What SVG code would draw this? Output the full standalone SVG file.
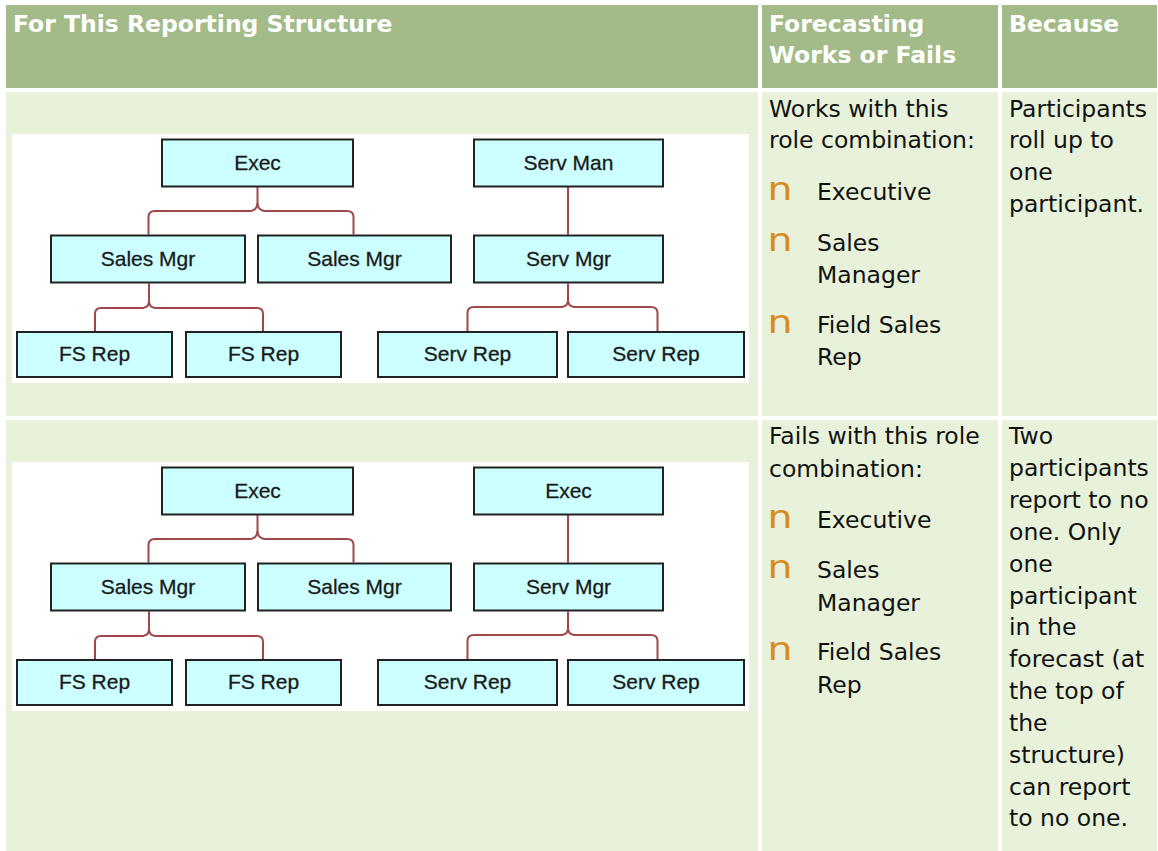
<svg xmlns="http://www.w3.org/2000/svg" width="1158" height="851" viewBox="0 0 1158 851">
<style>
.hd{fill:#a2bb88}
.bd{fill:#e8f2da}
.ht{font-family:"DejaVu Sans",Verdana,sans-serif;font-size:23.5px;font-weight:bold;fill:#ffffff}
.tx{font-family:"DejaVu Sans",Verdana,sans-serif;font-size:23.5px;fill:#111111}
.bu{font-family:"DejaVu Sans",Verdana,sans-serif;font-size:32px;fill:#d98b1e}
.box{fill:#ccffff;stroke:#222222;stroke-width:2}
.bt{font-family:"Liberation Sans",Arial,sans-serif;font-size:21px;fill:#1a1a1a;stroke:#1a1a1a;stroke-width:0.3;text-anchor:middle}
.cn{fill:none;stroke:#a0474a;stroke-width:2}
</style>
<rect width="1158" height="851" fill="#ffffff"/>
<g id="table">
<rect class="hd" x="6" y="5" width="752" height="83"/>
<rect class="hd" x="762" y="5" width="236" height="83"/>
<rect class="hd" x="1002" y="5" width="155" height="83"/>
<rect class="bd" x="6" y="92" width="752" height="324"/>
<rect class="bd" x="762" y="92" width="236" height="324"/>
<rect class="bd" x="1002" y="92" width="155" height="324"/>
<rect class="bd" x="6" y="420" width="752" height="431"/>
<rect class="bd" x="762" y="420" width="236" height="431"/>
<rect class="bd" x="1002" y="420" width="155" height="431"/>
<text class="ht" x="13" y="31.5">For This Reporting Structure</text>
<text class="ht" x="769" y="31.5">Forecasting</text>
<text class="ht" x="769" y="62.5">Works or Fails</text>
<text class="ht" x="1009" y="31.5">Because</text>
<text class="tx" x="769" y="116.5">Works with this</text>
<text class="tx" x="769" y="148.3">role combination:</text>
<text class="bu" x="767.5" y="200" textLength="25" lengthAdjust="spacingAndGlyphs">n</text>
<text class="tx" x="817" y="200">Executive</text>
<text class="bu" x="767.5" y="250.7" textLength="25" lengthAdjust="spacingAndGlyphs">n</text>
<text class="tx" x="817" y="250.7">Sales</text>
<text class="tx" x="817" y="283">Manager</text>
<text class="bu" x="767.5" y="332.5" textLength="25" lengthAdjust="spacingAndGlyphs">n</text>
<text class="tx" x="817" y="332.5">Field Sales</text>
<text class="tx" x="817" y="365">Rep</text>
<text class="tx" x="1009" y="116.5">Participants</text>
<text class="tx" x="1009" y="148.3">roll up to</text>
<text class="tx" x="1009" y="180">one</text>
<text class="tx" x="1009" y="211.7">participant.</text>
<text class="tx" x="769" y="444.3">Fails with this role</text>
<text class="tx" x="769" y="476.5">combination:</text>
<text class="bu" x="767.5" y="527.7" textLength="25" lengthAdjust="spacingAndGlyphs">n</text>
<text class="tx" x="817" y="527.7">Executive</text>
<text class="bu" x="767.5" y="578.3" textLength="25" lengthAdjust="spacingAndGlyphs">n</text>
<text class="tx" x="817" y="578.3">Sales</text>
<text class="tx" x="817" y="610.7">Manager</text>
<text class="bu" x="767.5" y="660" textLength="25" lengthAdjust="spacingAndGlyphs">n</text>
<text class="tx" x="817" y="660">Field Sales</text>
<text class="tx" x="817" y="692.7">Rep</text>
<text class="tx" x="1009" y="444.3">Two</text>
<text class="tx" x="1009" y="476.2">participants</text>
<text class="tx" x="1009" y="508">report to no</text>
<text class="tx" x="1009" y="539.8">one. Only</text>
<text class="tx" x="1009" y="571.7">one</text>
<text class="tx" x="1009" y="603.5">participant</text>
<text class="tx" x="1009" y="635.3">in the</text>
<text class="tx" x="1009" y="667.2">forecast (at</text>
<text class="tx" x="1009" y="699">the top of</text>
<text class="tx" x="1009" y="730.8">the</text>
<text class="tx" x="1009" y="762.7">structure)</text>
<text class="tx" x="1009" y="794.5">can report</text>
<text class="tx" x="1009" y="826.3">to no one.</text>
</g>
<rect x="12" y="134" width="737" height="249" fill="#ffffff"/>
<rect x="12" y="462" width="737" height="249" fill="#ffffff"/>
<g id="connectors" class="cn">
<path d="M257.5,187 V203 C257.5,207 255,210 251,211 H155 Q148.5,211 148.5,217 V234.5"/>
<path d="M257.5,203 C257.5,207 260,210 264,211 H347 Q353.5,211 353.5,217 V234.5"/>
<path d="M149,283.5 V301 C149,305 146.5,307.5 143,308 H101 Q95,308 95,314 V331"/>
<path d="M149,301 C149,305 151.5,307.5 155,308 H257 Q263,308 263,314 V331"/>
<path d="M568,187 V234.5"/>
<path d="M568,283.5 V300 C568,304 565.5,306.5 562,307 H474 Q467.5,307 467.5,313 V331"/>
<path d="M568,300 C568,304 570.5,306.5 574,307 H651 Q657.5,307 657.5,313 V331"/>
<path d="M257.5,515 V531 C257.5,535 255,538 251,539 H155 Q148.5,539 148.5,545 V562.5"/>
<path d="M257.5,531 C257.5,535 260,538 264,539 H347 Q353.5,539 353.5,545 V562.5"/>
<path d="M149,611.5 V629 C149,633 146.5,635.5 143,636 H101 Q95,636 95,642 V659"/>
<path d="M149,629 C149,633 151.5,635.5 155,636 H257 Q263,636 263,642 V659"/>
<path d="M568,515 V562.5"/>
<path d="M568,611.5 V628 C568,632 565.5,634.5 562,635 H474 Q467.5,635 467.5,641 V659"/>
<path d="M568,628 C568,632 570.5,634.5 574,635 H651 Q657.5,635 657.5,641 V659"/>
</g>
<g id="n-exec1"><rect class="box" x="162" y="139.5" width="191" height="47"/><text class="bt" x="257.5" y="170">Exec</text></g>
<g id="n-salesmgr1a"><rect class="box" x="51" y="235.5" width="194" height="47"/><text class="bt" x="148" y="266">Sales Mgr</text></g>
<g id="n-salesmgr1b"><rect class="box" x="258" y="235.5" width="193" height="47"/><text class="bt" x="354.5" y="266">Sales Mgr</text></g>
<g id="n-fsrep1a"><rect class="box" x="17" y="332" width="155" height="45"/><text class="bt" x="94.5" y="361">FS Rep</text></g>
<g id="n-fsrep1b"><rect class="box" x="186" y="332" width="155" height="45"/><text class="bt" x="263.5" y="361">FS Rep</text></g>
<g id="n-servman"><rect class="box" x="474" y="139.5" width="189" height="47"/><text class="bt" x="568.5" y="170">Serv Man</text></g>
<g id="n-servmgr1"><rect class="box" x="474" y="235.5" width="189" height="47"/><text class="bt" x="568.5" y="266">Serv Mgr</text></g>
<g id="n-servrep1a"><rect class="box" x="378" y="332" width="179" height="45"/><text class="bt" x="467.5" y="361">Serv Rep</text></g>
<g id="n-servrep1b"><rect class="box" x="568" y="332" width="176" height="45"/><text class="bt" x="656" y="361">Serv Rep</text></g>
<g id="n-exec2a"><rect class="box" x="162" y="467.5" width="191" height="47"/><text class="bt" x="257.5" y="498">Exec</text></g>
<g id="n-salesmgr2a"><rect class="box" x="51" y="563.5" width="194" height="47"/><text class="bt" x="148" y="594">Sales Mgr</text></g>
<g id="n-salesmgr2b"><rect class="box" x="258" y="563.5" width="193" height="47"/><text class="bt" x="354.5" y="594">Sales Mgr</text></g>
<g id="n-fsrep2a"><rect class="box" x="17" y="660" width="155" height="45"/><text class="bt" x="94.5" y="689">FS Rep</text></g>
<g id="n-fsrep2b"><rect class="box" x="186" y="660" width="155" height="45"/><text class="bt" x="263.5" y="689">FS Rep</text></g>
<g id="n-exec2b"><rect class="box" x="474" y="467.5" width="189" height="47"/><text class="bt" x="568.5" y="498">Exec</text></g>
<g id="n-servmgr2"><rect class="box" x="474" y="563.5" width="189" height="47"/><text class="bt" x="568.5" y="594">Serv Mgr</text></g>
<g id="n-servrep2a"><rect class="box" x="378" y="660" width="179" height="45"/><text class="bt" x="467.5" y="689">Serv Rep</text></g>
<g id="n-servrep2b"><rect class="box" x="568" y="660" width="176" height="45"/><text class="bt" x="656" y="689">Serv Rep</text></g>
</svg>
